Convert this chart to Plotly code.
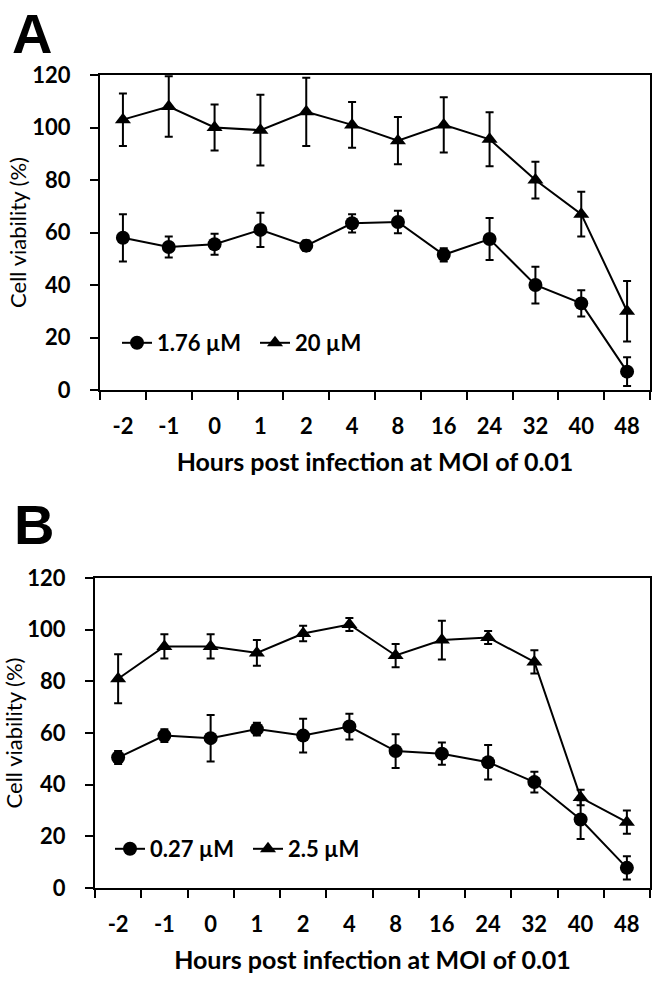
import plotly.graph_objects as go

hours = ["-2", "-1", "0", "1", "2", "4", "8", "16", "24", "32", "40", "48"]

# Panel A
a_low_label = "1.76 µM"
a_low = [58, 54.5, 55.5, 61, 55, 63.5, 64, 51.5, 57.5, 40, 33, 7]
a_low_err = [9, 4, 4, 6.5, 2, 3.5, 4.3, 2.5, 8, 7, 5, 5.5]
a_high_label = "20 µM"
a_high = [103, 108, 100, 99, 106, 101, 95, 101, 95.5, 80, 67, 30]
a_high_err = [10, 11.5, 8.8, 13.5, 13, 8.7, 9, 10.5, 10.3, 7, 8.5, 11.5]

# Panel B
b_low_label = "0.27 µM"
b_low = [50.5, 59, 58, 61.5, 59, 62.5, 53, 52, 48.7, 41, 26.5, 7.8]
b_low_err = [2.5, 2.5, 9, 2.5, 6.5, 5, 6.5, 4.3, 6.7, 4, 7.5, 4.5]
b_high_label = "2.5 µM"
b_high = [81, 93.5, 93.5, 91, 98.5, 102, 90, 96, 97, 87.5, 35, 25.5]
b_high_err = [9.5, 4.7, 4.7, 5, 3, 2.5, 4.5, 7.5, 2.5, 4.5, 3, 4.5]

y_ticks = [0, 20, 40, 60, 80, 100, 120]
x_title = "Hours post infection at MOI of 0.01"
y_title = "Cell viability (%)"

FONT = "Lato"
BLACK = "#000000"

fig = go.Figure()

def add_series(y, err, name, symbol, xa, ya, legend):
    fig.add_trace(go.Scatter(
        x=hours, y=y, name=name, mode="lines+markers",
        line=dict(color=BLACK, width=2),
        marker=dict(symbol=symbol, size=14, color=BLACK),
        error_y=dict(type="data", array=err, visible=True, color=BLACK,
                     thickness=2, width=4),
        xaxis=xa, yaxis=ya, legend=legend,
    ))

add_series(a_low, a_low_err, a_low_label, "circle", "x", "y", "legend")
add_series(a_high, a_high_err, a_high_label, "triangle-up", "x", "y", "legend")
add_series(b_low, b_low_err, b_low_label, "circle", "x2", "y2", "legend2")
add_series(b_high, b_high_err, b_high_label, "triangle-up", "x2", "y2", "legend2")

W, H = 658, 984

def px_x(v):
    return v / W

def px_y(v):
    return 1 - v / H

xaxis_common = dict(
    type="category", categoryorder="array", categoryarray=hours,
    range=[-0.5, 11.5], showline=True, linecolor=BLACK, linewidth=2,
    mirror=True, ticks="outside", ticklen=8, tickwidth=2, tickcolor=BLACK,
    tickson="boundaries", showgrid=False, zeroline=False, automargin=False,
    ticklabelstandoff=16,
    tickfont=dict(family=FONT, size=22, color=BLACK, weight="bold"),
    title=dict(text=x_title, font=dict(family=FONT, size=25, color=BLACK, weight="bold")),
)
yaxis_common = dict(
    range=[0, 120], tickvals=y_ticks, showline=True, linecolor=BLACK,
    linewidth=2, mirror=True, ticks="outside", ticklen=8, tickwidth=2,
    tickcolor=BLACK, showgrid=False, zeroline=False, automargin=False,
    ticklabelstandoff=15,
    tickfont=dict(family=FONT, size=22, color=BLACK, weight="bold"),
    title=dict(text=y_title, font=dict(family=FONT, size=22, color=BLACK), standoff=0),
)

legend_common = dict(
    orientation="h", xanchor="left", yanchor="middle",
    bgcolor="rgba(0,0,0,0)", itemwidth=30, entrywidth=93,
    font=dict(family=FONT, size=22, color=BLACK, weight="bold"),
    tracegroupgap=0,
)

fig.update_layout(
    width=W, height=H, margin=dict(l=0, r=0, t=0, b=0, autoexpand=False),
    paper_bgcolor="white", plot_bgcolor="white",
    showlegend=True, hovermode=False,
    xaxis=dict(domain=[px_x(100), px_x(650)], anchor="y", **xaxis_common),
    yaxis=dict(domain=[px_y(390), px_y(75)], anchor="x", **yaxis_common),
    xaxis2=dict(domain=[px_x(95), px_x(650)], anchor="y2", **xaxis_common),
    yaxis2=dict(domain=[px_y(888), px_y(578)], anchor="x2", **yaxis_common),
    legend=dict(x=px_x(117), y=px_y(343), **legend_common),
    legend2=dict(x=px_x(110), y=px_y(849), **legend_common),
    annotations=[
        dict(text="<b>A</b>", x=px_x(10), y=1, xref="paper", yref="paper",
             xanchor="left", yanchor="top", showarrow=False,
             font=dict(family="Liberation Sans", size=56, color=BLACK)),
        dict(text="<b>B</b>", x=px_x(12), y=px_y(524), xref="paper", yref="paper",
             xanchor="left", yanchor="middle", showarrow=False,
             font=dict(family="Liberation Sans", size=56, color=BLACK)),
    ],
)

fig.write_html("out.html", config={"displayModeBar": False},
               post_script="document.body.style.margin='0px';")
